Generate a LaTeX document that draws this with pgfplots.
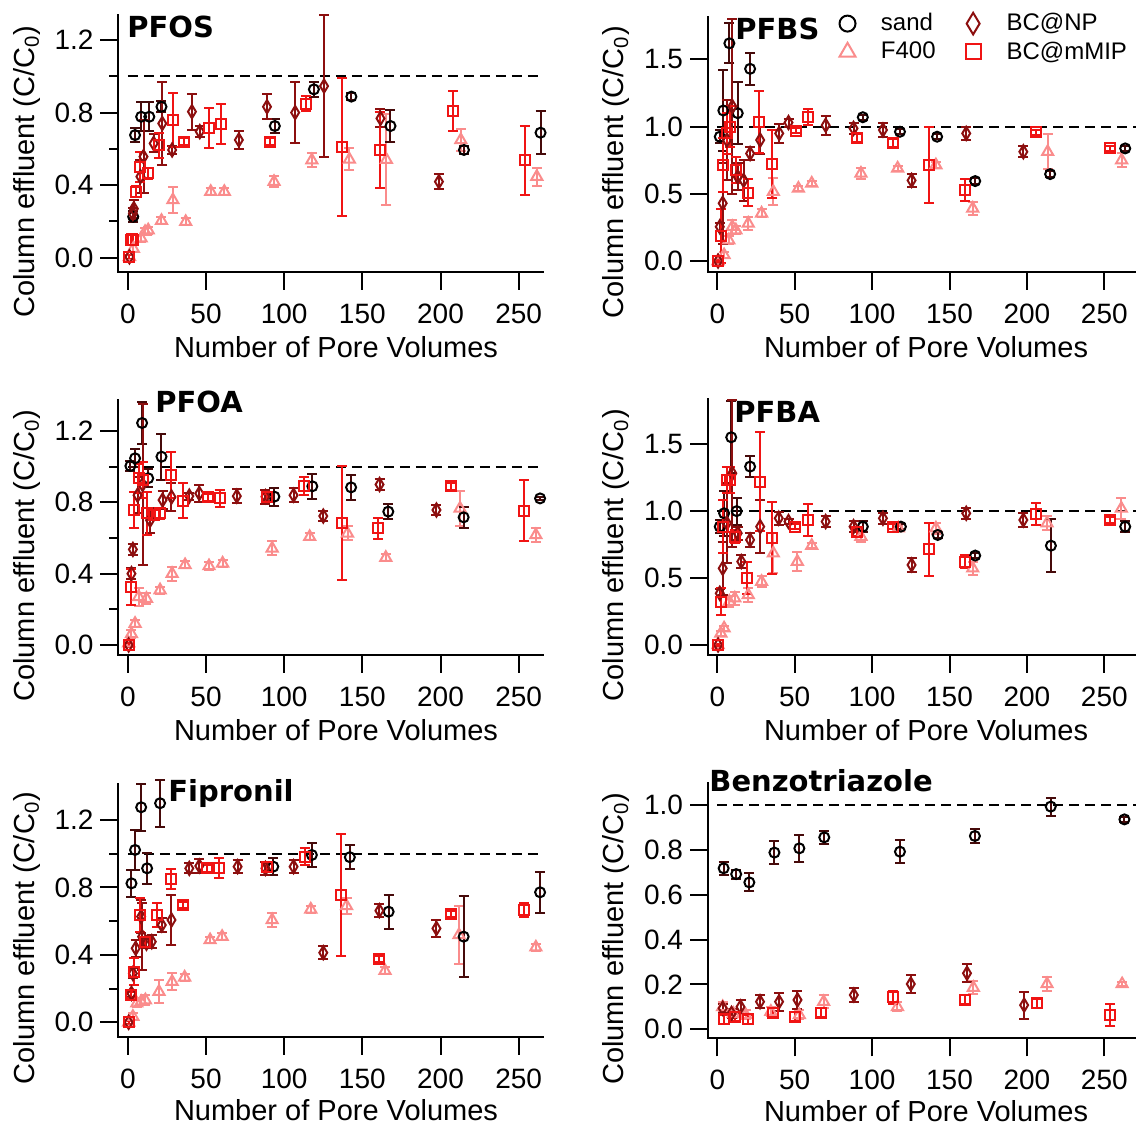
\documentclass[border=0pt]{standalone}
\usepackage{fontspec}
\setmainfont{Liberation Sans}
\newfontfamily\titlefont{DejaVu Sans}
\usepackage{pgfplots}
\pgfplotsset{compat=1.18}
\definecolor{sandbar}{RGB}{70,10,10}
\definecolor{f400c}{RGB}{250,140,140}
\definecolor{npc}{RGB}{140,15,15}
\definecolor{mipc}{RGB}{240,20,20}
\pgfplotsset{
  ser/.style n args={5}{only marks, forget plot, mark=#1, mark size=#2, color=#3, mark options={solid, line width=1pt, #5},
     error bars/.cd, y dir=both, y explicit, error bar style={color=#4, line width=1pt},
     error mark options={rotate=90, color=#4, mark size=2.5pt, line width=1pt}},
  sandS/.style={ser={o}{2.5pt}{black}{sandbar}{}},
  f4S/.style={ser={triangle}{3.2pt}{f400c}{f400c}{}},
  npS/.style={ser={diamond}{3.3pt}{npc}{npc}{xscale=0.8}},
  mipS/.style={ser={square}{2.5pt}{mipc}{mipc}{}},
  base/.style={scale only axis, anchor=south west,
     axis line style={draw=none}, xtick pos=left, ytick pos=left,
     tick style={draw=black, line width=1pt}, tick align=outside,
     major tick length=9pt, minor tick length=4.5pt, xtick={0,50,100,150,200,250}, xmin=-6,
     tick label style={font=\fontsize{14}{16}\selectfont},
     /pgf/number format/assume math mode=true,
     xticklabel style={anchor=north, yshift=-3.5pt},
     yticklabel style={anchor=east, xshift=0pt, /pgf/number format/.cd, fixed, fixed zerofill, precision=1},
     label style={font=\fontsize{14.5}{17}\selectfont, inner sep=1pt},
     xlabel={Number of Pore Volumes}, ylabel={Column effluent (C/C\textsubscript{0})}, clip=false},
  leftcol/.style={base, width=212.2pt, xmax=265.5,
     xlabel style={at={(axis description cs:0.5125,0)}, anchor=center, yshift=-37.75pt},
     ylabel style={at={(axis description cs:-0.2156,0.39)}, anchor=center}},
  rightcol/.style={base, width=225.25pt, xmax=285,
     xlabel style={at={(axis description cs:0.484,0)}, anchor=center, yshift=-37.75pt},
     ylabel style={at={(axis description cs:-0.2033,0.39)}, anchor=center}},
  dline/.style={forget plot, black, line width=1pt, dash pattern=on 5pt off 3pt},
}
\newcommand{\spines}{\draw[line width=1pt, line cap=rect] (rel axis cs:0,1) -- (rel axis cs:0,0) -- (rel axis cs:1,0);}
\newcommand{\ttl}[1]{{\titlefont\bfseries\fontsize{14.5}{16}\selectfont #1}}
\begin{document}
\begin{tikzpicture}
\useasboundingbox (0,0) rectangle (568pt,563.5pt);
% ---------------- PFOS
\begin{axis}[leftcol, at={(59.25pt,427.65pt)}, height=128.35pt, ymin=-0.077, ymax=1.338,
  ytick={0,0.4,0.8,1.2}, minor ytick={0.2,0.6,1.0}]
\spines
\addplot[dline] coordinates {(0,1) (265.5,1)};
\addplot[f4S] table[row sep=\\, y error index=2] {x y e\\
1 0.005 0.01\\ 3.5 0.05 0.02\\ 8.5 0.107 0.02\\ 11 0.143 0.02\\ 13 0.152 0.02\\ 21.5 0.204 0.02\\
28.8 0.318 0.07\\ 37 0.198 0.02\\ 53 0.364 0.02\\ 61.7 0.364 0.02\\ 93.5 0.419 0.03\\ 117.7 0.538 0.04\\
141.7 0.542 0.06\\ 165.4 0.54 0.25\\ 213 0.649 0.06\\ 261.6 0.447 0.05\\};
\addplot[sandS] table[row sep=\\, y error index=2] {x y e\\
3.4 0.226 0.03\\ 4.6 0.676 0.04\\ 8.5 0.777 0.08\\ 13.7 0.777 0.08\\ 21.5 0.832 0.03\\ 94 0.726 0.04\\
119 0.928 0.04\\ 143 0.888 0.02\\ 168 0.726 0.09\\ 215 0.594 0.02\\ 264 0.689 0.12\\};
\addplot[npS] table[row sep=\\, y error index=2] {x y e\\
1 0.005 0.01\\ 3.2 0.244 0.03\\ 3.8 0.27 0.05\\ 8 0.447 0.09\\ 10 0.557 0.2\\ 16.5 0.63 0.05\\ 22 0.74 0.23\\
28.3 0.594 0.02\\ 41 0.805 0.1\\ 46 0.695 0.03\\ 71 0.649 0.05\\ 89 0.832 0.07\\ 107 0.8 0.17\\
125.5 0.946 0.39\\ 161.6 0.768 0.05\\ 199 0.419 0.04\\};
\addplot[mipS] table[row sep=\\, y error index=2] {x y e\\
1 0.005 0.01\\ 2.3 0.1 0.03\\ 3.5 0.1 0.03\\ 5 0.364 0.03\\ 8 0.5 0.08\\ 13 0.465 0.03\\ 20 0.62 0.07\\
29 0.759 0.15\\ 36 0.64 0.02\\ 52 0.713 0.11\\ 59.4 0.735 0.11\\ 90.7 0.64 0.02\\ 114 0.85 0.04\\
137 0.612 0.38\\ 161 0.594 0.21\\ 208 0.808 0.11\\ 254 0.538 0.19\\};
\end{axis}
% ---------------- PFBS
\begin{axis}[rightcol, at={(354pt,427.65pt)}, height=127.5pt, ymin=-0.079, ymax=1.818,
  ytick={0,0.5,1,1.5}, legend columns=2,
  legend image code/.code={\path (0cm,0cm) (0.74cm,0cm); \draw[#1] plot coordinates {(0.3cm,0cm)};},
  legend style={draw=none, fill=white, at={(axis cs:70,1.89)}, anchor=north west, inner sep=2pt,
    font=\fontsize{12}{14}\selectfont, row sep=2pt, cells={anchor=west}, nodes={inner xsep=4pt, inner ysep=1pt},
    /tikz/every even column/.append style={column sep=6pt}}]
\spines
\addlegendimage{only marks, mark=o, mark size=4pt, mark options={black, line width=1pt}}
\addlegendentry{sand}
\addlegendimage{only marks, mark=diamond, mark size=5.4pt, mark options={npc, line width=1pt, xscale=0.8}}
\addlegendentry{BC@NP}
\addlegendimage{only marks, mark=triangle, mark size=4.6pt, mark options={f400c, line width=1pt}}
\addlegendentry{F400}
\addlegendimage{only marks, mark=square, mark size=3.75pt, mark options={mipc, line width=1pt}}
\addlegendentry{BC@mMIP}
\addplot[dline] coordinates {(0,1) (285,1)};
\addplot[f4S] table[row sep=\\, y error index=2] {x y e\\
0.5 0.0 0.01\\ 4.4 0.045 0.02\\ 7.4 0.156 0.03\\ 9.7 0.255 0.05\\ 12 0.23 0.03\\ 20 0.28 0.05\\
28.6 0.355 0.03\\ 36.2 0.516 0.1\\ 52.4 0.54 0.02\\ 61 0.578 0.02\\ 92.8 0.652 0.04\\ 116.5 0.69 0.02\\
141.2 0.714 0.02\\ 165 0.392 0.05\\ 213.4 0.813 0.13\\ 261.2 0.751 0.05\\};
\addplot[sandS] table[row sep=\\, y error index=2] {x y e\\
1.6 0.925 0.05\\ 3.9 1.12 0.3\\ 7.8 1.62 0.15\\ 13.2 1.10 0.23\\ 21.2 1.43 0.12\\ 94 1.07 0.02\\
118 0.962 0.02\\ 142 0.925 0.02\\ 166.6 0.595 0.02\\ 215 0.647 0.02\\ 263.5 0.838 0.02\\};
\addplot[npS] table[row sep=\\, y error index=2] {x y e\\
0.5 0.0 0.01\\ 1.6 0.255 0.03\\ 3.5 0.43 0.3\\ 6.2 0.9 0.3\\ 9.7 1.15 0.65\\ 13.2 0.627 0.1\\ 17 0.6 0.15\\
21.2 0.8 0.05\\ 27.7 0.9 0.1\\ 40 0.95 0.07\\ 46 1.03 0.03\\ 70 1.01 0.07\\ 88 0.987 0.04\\ 107 0.975 0.05\\
125.5 0.6 0.05\\ 160.8 0.95 0.05\\ 197.7 0.813 0.04\\};
\addplot[mipS] table[row sep=\\, y error index=2] {x y e\\
0.5 0.0 0.01\\ 2.3 0.186 0.2\\ 3.9 0.714 0.2\\ 6.2 0.95 0.15\\ 8.5 1.0 0.15\\ 12 0.677 0.1\\ 20 0.508 0.1\\
27 1.037 0.23\\ 35.5 0.722 0.25\\ 50.8 0.97 0.02\\ 58.8 1.074 0.06\\ 90 0.918 0.03\\ 113.5 0.875 0.03\\
136.6 0.714 0.28\\ 160 0.528 0.08\\ 206 0.957 0.02\\ 253.6 0.838 0.02\\};
\end{axis}
% ---------------- PFOA
\begin{axis}[leftcol, at={(59.25pt,236pt)}, height=127.5pt, ymin=-0.056, ymax=1.374,
  ytick={0,0.4,0.8,1.2}, minor ytick={0.2,0.6,1.0}]
\spines
\addplot[dline] coordinates {(0,1) (265.5,1)};
\addplot[f4S] table[row sep=\\, y error index=2] {x y e\\
0.5 0.01 0.01\\ 2.3 0.062 0.02\\ 4.6 0.12 0.02\\ 6.9 0.27 0.05\\ 11.9 0.26 0.03\\ 20.6 0.308 0.02\\
28.3 0.4 0.04\\ 36.6 0.449 0.02\\ 51.9 0.443 0.02\\ 60.6 0.458 0.02\\ 92.3 0.542 0.04\\ 116.3 0.607 0.02\\
140.5 0.626 0.04\\ 165 0.49 0.02\\ 212.5 0.766 0.1\\ 261 0.617 0.04\\};
\addplot[sandS] table[row sep=\\, y error index=2] {x y e\\
1.6 1.004 0.03\\ 4.6 1.047 0.05\\ 9.1 1.245 0.12\\ 13 0.935 0.05\\ 21.5 1.056 0.13\\ 93.7 0.832 0.05\\
118 0.89 0.07\\ 142.8 0.884 0.07\\ 166.6 0.748 0.04\\ 214.8 0.716 0.06\\ 263.7 0.822 0.01\\};
\addplot[npS] table[row sep=\\, y error index=2] {x y e\\
0.5 0.0 0.01\\ 2.3 0.4 0.03\\ 3.2 0.536 0.03\\ 6.2 0.84 0.1\\ 9.4 0.9 0.45\\ 14.2 0.7 0.07\\ 22.2 0.813 0.05\\
27.9 0.83 0.08\\ 39.3 0.835 0.02\\ 45.7 0.85 0.05\\ 69.7 0.835 0.04\\ 88 0.832 0.04\\ 106 0.84 0.04\\
125 0.723 0.03\\ 161 0.9 0.03\\ 197.4 0.757 0.03\\};
\addplot[mipS] table[row sep=\\, y error index=2] {x y e\\
0.5 0.0 0.01\\ 2.3 0.327 0.1\\ 4.1 0.757 0.1\\ 6.9 0.935 0.08\\ 9.6 0.925 0.1\\ 12.3 0.738 0.12\\
16.5 0.729 0.03\\ 20.6 0.738 0.03\\ 27.9 0.953 0.13\\ 35.2 0.81 0.1\\ 51.2 0.828 0.02\\ 58.7 0.822 0.05\\
89 0.828 0.02\\ 112.9 0.89 0.05\\ 137 0.682 0.32\\ 160 0.654 0.06\\ 207 0.89 0.02\\ 253.7 0.753 0.17\\};
\end{axis}
% ---------------- PFBA
\begin{axis}[rightcol, at={(354pt,236pt)}, height=127.85pt, ymin=-0.075, ymax=1.836,
  ytick={0,0.5,1,1.5}]
\spines
\addplot[dline] coordinates {(0,1) (285,1)};
\addplot[f4S] table[row sep=\\, y error index=2] {x y e\\
0.5 0.0 0.01\\ 2.3 0.087 0.02\\ 4.4 0.125 0.02\\ 7.8 0.324 0.04\\ 11.3 0.349 0.05\\ 20 0.374 0.05\\
28.6 0.473 0.04\\ 36.2 0.685 0.15\\ 51.7 0.623 0.07\\ 61 0.742 0.02\\ 92.8 0.81 0.04\\ 117 0.872 0.02\\
141.2 0.872 0.04\\ 165 0.573 0.05\\ 213 0.91 0.05\\ 261 1.02 0.08\\};
\addplot[sandS] table[row sep=\\, y error index=2] {x y e\\
1.6 0.884 0.05\\ 4.4 0.984 0.17\\ 9 1.552 0.27\\ 12.5 1.0 0.1\\ 21.2 1.333 0.08\\ 94 0.884 0.04\\
118.6 0.884 0.02\\ 142.4 0.822 0.02\\ 166.6 0.668 0.02\\ 215.5 0.742 0.2\\ 263.5 0.884 0.04\\};
\addplot[npS] table[row sep=\\, y error index=2] {x y e\\
0.5 0.0 0.01\\ 1.6 0.386 0.03\\ 3.5 0.573 0.2\\ 6.2 0.91 0.3\\ 9.7 1.283 0.55\\ 13.2 0.835 0.05\\
15.5 0.623 0.05\\ 21.2 0.785 0.05\\ 27.7 0.884 0.2\\ 39.7 0.947 0.05\\ 46 0.922 0.02\\ 70 0.922 0.04\\
88 0.884 0.04\\ 107 0.947 0.04\\ 125.5 0.598 0.05\\ 160.8 0.984 0.04\\ 197.7 0.934 0.05\\};
\addplot[mipS] table[row sep=\\, y error index=2] {x y e\\
0.5 0.0 0.01\\ 2.3 0.324 0.1\\ 3.9 0.884 0.2\\ 6.2 1.233 0.1\\ 8.5 1.233 0.1\\ 11.3 0.81 0.05\\
19.4 0.498 0.12\\ 27.7 1.22 0.37\\ 35.5 0.8 0.27\\ 50 0.884 0.02\\ 58.8 0.934 0.12\\ 90 0.847 0.03\\
113.5 0.884 0.02\\ 136.6 0.715 0.2\\ 160 0.623 0.05\\ 206 0.979 0.08\\ 253.6 0.934 0.02\\};
\end{axis}
% ---------------- Fipronil
\begin{axis}[leftcol, at={(59.25pt,45.15pt)}, height=126.35pt, ymin=-0.085, ymax=1.413,
  ytick={0,0.4,0.8,1.2}, minor ytick={0.2,0.6,1.0}, xlabel style={yshift=1pt}]
\spines
\addplot[dline] coordinates {(0,1) (265.5,1)};
\addplot[f4S] table[row sep=\\, y error index=2] {x y e\\
0.5 0.0 0.01\\ 3.2 0.034 0.02\\ 5.7 0.113 0.02\\ 8.5 0.123 0.02\\ 11.2 0.132 0.03\\ 19.9 0.182 0.07\\
28.3 0.241 0.05\\ 36.3 0.267 0.02\\ 52.6 0.488 0.02\\ 60.3 0.508 0.02\\ 92.3 0.607 0.04\\ 117 0.67 0.02\\
139.9 0.69 0.05\\ 164.5 0.306 0.02\\ 211.8 0.518 0.17\\ 261 0.445 0.02\\};
\addplot[sandS] table[row sep=\\, y error index=2] {x y e\\
2.3 0.824 0.08\\ 4.6 1.022 0.12\\ 8.5 1.275 0.14\\ 12.3 0.913 0.09\\ 20.6 1.299 0.14\\ 93 0.923 0.05\\
117.7 0.992 0.07\\ 142 0.979 0.07\\ 166.8 0.656 0.1\\ 214.8 0.508 0.24\\ 263.7 0.771 0.12\\};
\addplot[npS] table[row sep=\\, y error index=2] {x y e\\
0.5 0.0 0.01\\ 2.3 0.172 0.02\\ 3.2 0.29 0.03\\ 5 0.439 0.05\\ 8.5 0.627 0.1\\ 9.1 0.508 0.2\\
11.9 0.469 0.03\\ 15.3 0.478 0.04\\ 21.7 0.577 0.04\\ 27.9 0.607 0.15\\ 39.3 0.913 0.03\\ 45.7 0.927 0.04\\
70.2 0.923 0.04\\ 88 0.913 0.04\\ 106 0.923 0.04\\ 125 0.413 0.04\\ 160.9 0.662 0.04\\ 197.4 0.557 0.05\\};
\addplot[mipS] table[row sep=\\, y error index=2] {x y e\\
0.5 0.0 0.01\\ 2.3 0.162 0.02\\ 3.9 0.3 0.08\\ 7.8 0.637 0.1\\ 10.7 0.478 0.03\\ 18.7 0.637 0.07\\
27.9 0.848 0.06\\ 35.4 0.696 0.02\\ 50.3 0.913 0.02\\ 58.5 0.913 0.06\\ 89 0.919 0.02\\ 113 0.983 0.05\\
136.4 0.755 0.36\\ 160.4 0.376 0.02\\ 206.8 0.643 0.02\\ 253.7 0.666 0.04\\};
\end{axis}
% ---------------- Benzotriazole
\begin{axis}[rightcol, at={(354pt,44.35pt)}, height=127.5pt, ymin=-0.04, ymax=1.097,
  ytick={0,0.2,0.4,0.6,0.8,1.0}, xlabel style={yshift=1.5pt}]
\spines
\addplot[dline] coordinates {(0,1) (285,1)};
\addplot[f4S] table[row sep=\\, y error index=2] {x y e\\
3.5 0.1 0.02\\ 10.4 0.07 0.02\\ 18.4 0.064 0.02\\ 34.6 0.079 0.02\\ 53 0.064 0.02\\ 68.7 0.123 0.03\\
116.4 0.1 0.02\\ 165.4 0.186 0.03\\ 213 0.202 0.03\\ 261.5 0.202 0.01\\};
\addplot[sandS] table[row sep=\\, y error index=2] {x y e\\
4.1 0.718 0.03\\ 12.2 0.692 0.02\\ 20.7 0.655 0.04\\ 36.9 0.788 0.05\\ 53 0.807 0.06\\ 69.1 0.856 0.03\\
118 0.792 0.05\\ 166.4 0.862 0.03\\ 215.4 0.993 0.04\\ 263 0.936 0.01\\};
\addplot[npS] table[row sep=\\, y error index=2] {x y e\\
3.5 0.094 0.02\\ 9.2 0.071 0.02\\ 15 0.1 0.03\\ 27.6 0.123 0.03\\ 39.9 0.123 0.04\\ 51.8 0.131 0.04\\
88.2 0.153 0.03\\ 125 0.202 0.04\\ 161.3 0.25 0.04\\ 198.2 0.108 0.06\\};
\addplot[mipS] table[row sep=\\, y error index=2] {x y e\\
4.1 0.045 0.02\\ 11.5 0.056 0.02\\ 19.6 0.045 0.02\\ 35.7 0.074 0.02\\ 50.2 0.056 0.02\\ 66.8 0.074 0.02\\
113.6 0.143 0.03\\ 159.7 0.131 0.02\\ 206.7 0.116 0.02\\ 253.9 0.064 0.05\\};
\end{axis}
% titles
\node[anchor=base west, inner sep=0pt] at (63.5pt,544.5pt) {\ttl{PFOS}};
\node[anchor=base west, inner sep=0pt] at (367.5pt,543.5pt) {\ttl{PFBS}};
\node[anchor=base west, inner sep=0pt] at (77.5pt,357pt) {\ttl{PFOA}};
\node[anchor=base west, inner sep=0pt] at (367pt,352pt) {\ttl{PFBA}};
\node[anchor=base west, inner sep=0pt] at (84pt,162.5pt) {\ttl{Fipronil}};
\node[anchor=base west, inner sep=0pt] at (354.5pt,167.5pt) {\ttl{Benzotriazole}};
\end{tikzpicture}
\end{document}
